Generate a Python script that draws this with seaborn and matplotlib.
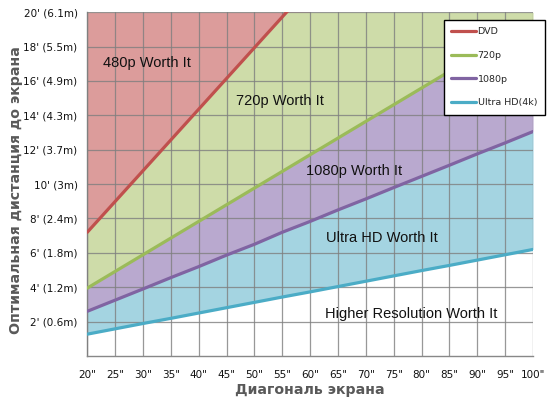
import matplotlib
matplotlib.use("Agg")
import matplotlib.pyplot as plt
import pandas as pd
import seaborn as sns

# диагональ экрана (дюймы) и оптимальная дистанция (футы)
diag = [20, 25, 30, 35, 40, 45, 50, 55, 60, 65, 70, 75, 80, 85, 90, 95, 100]
diag_dvd = [20, 25, 30, 35, 40, 45, 50, 55, 60]
dist_dvd = [7.2, 8.99, 10.78, 12.57, 14.36, 16.15, 17.94, 19.73, 21.52]
dist_720 = [3.95, 4.92, 5.89, 6.86, 7.83, 8.8, 9.77, 10.74, 11.71, 12.68,
            13.65, 14.62, 15.59, 16.56, 17.53, 18.5, 19.47]
dist_1080 = [2.6, 3.25, 3.9, 4.56, 5.2, 5.87, 6.5, 7.2, 7.83, 8.5,
             9.14, 9.8, 10.45, 11.1, 11.76, 12.4, 13.06]
dist_4k = [1.27, 1.58, 1.89, 2.19, 2.5, 2.81, 3.12, 3.43, 3.73, 4.04,
           4.35, 4.66, 4.97, 5.27, 5.58, 5.89, 6.2]

series_names = ["DVD", "720p", "1080p", "Ultra HD(4k)"]
line_colors = ["#C0504D", "#9BBB59", "#8064A2", "#4BACC6"]
fill_colors = ["#DC9C9B", "#CEDCA9", "#B9A9CF", "#A4D4E1"]

y_ticks = [2, 4, 6, 8, 10, 12, 14, 16, 18, 20]
y_labels = ["2' (0.6m)", "4' (1.2m)", "6' (1.8m)", "8' (2.4m)", "10' (3m)",
            "12' (3.7m)", "14' (4.3m)", "16' (4.9m)", "18' (5.5m)", "20' (6.1m)"]
x_labels = ['%d"' % d for d in diag]

region_text = ["480p Worth It", "720p Worth It", "1080p Worth It",
               "Ultra HD Worth It", "Higher Resolution Worth It"]
region_pos = [(30.7, 17.07), (54.6, 14.85), (67.9, 10.77), (72.9, 6.85), (78.2, 2.43)]

sns.set_style("white")
plt.rcParams['font.family'] = ['DejaVu Sans']

fig = plt.figure(figsize=(5.5, 3.99), dpi=100)
ax = fig.add_axes([0.1587, 0.1078, 0.8105, 0.8615])

# заливки зон
ax.fill_between(diag, dist_4k, dist_1080, color=fill_colors[3], lw=0, zorder=1)
ax.fill_between(diag, dist_1080, dist_720, color=fill_colors[2], lw=0, zorder=1)
ax.fill_between(diag, dist_720, 20, color=fill_colors[1], lw=0, zorder=1)
ax.fill_between(diag_dvd, dist_dvd, 20, color=fill_colors[0], lw=0, zorder=1.1)

df = pd.concat([
    pd.DataFrame({"x": diag_dvd, "y": dist_dvd, "s": series_names[0]}),
    pd.DataFrame({"x": diag, "y": dist_720, "s": series_names[1]}),
    pd.DataFrame({"x": diag, "y": dist_1080, "s": series_names[2]}),
    pd.DataFrame({"x": diag, "y": dist_4k, "s": series_names[3]}),
])
sns.lineplot(data=df, x="x", y="y", hue="s", palette=line_colors, lw=2.3,
             ax=ax, zorder=3)

ax.set_xlim(20, 100)
ax.set_ylim(0, 20)
ax.set_xticks(diag)
ax.set_xticklabels(x_labels, fontsize=7.5)
ax.set_yticks(y_ticks)
ax.set_yticklabels(y_labels, fontsize=7.5)
ax.tick_params(axis="both", direction="out", length=4, width=1, color="#888888",
               pad=3, labelcolor="#111111")
ax.tick_params(axis="x", pad=6)
ax.grid(True, color="#7f7f7f", lw=0.9, alpha=0.8)
ax.set_axisbelow(False)
for sp in ["top", "right"]:
    ax.spines[sp].set_visible(False)
for sp in ["left", "bottom"]:
    ax.spines[sp].set_color("#888888")
    ax.spines[sp].set_linewidth(1)

for t, (px, py) in zip(region_text, region_pos):
    ax.text(px, py, t, ha="center", va="center", fontsize=10.5,
            family="Liberation Sans", color="#111111", zorder=4)

ax.set_xlabel("Диагональ экрана", fontsize=10.2, fontweight="bold", color="#595959",
              labelpad=2)
ax.set_ylabel("Оптимальная дистанция до экрана", fontsize=10.2, fontweight="bold",
              color="#595959", labelpad=2)
ax.yaxis.set_label_coords(-0.144, 0.483)

leg = ax.legend(loc="upper right", bbox_to_anchor=(1.026, 0.978), fontsize=6.8,
                frameon=True, fancybox=False, edgecolor="black", framealpha=1,
                handlelength=2.6, handletextpad=0.2, labelspacing=1.55,
                borderpad=0.8, borderaxespad=0, title=None)
leg.get_frame().set_linewidth(1)
leg.set_zorder(5)

fig.savefig("out.png", dpi=100)
